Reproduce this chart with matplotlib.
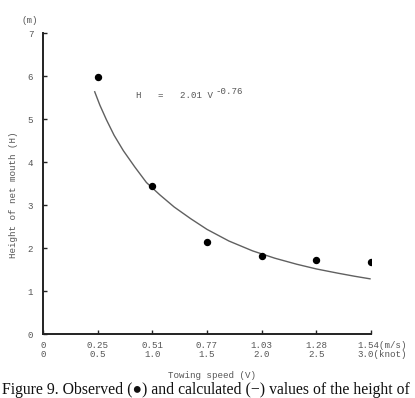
import matplotlib
matplotlib.use("Agg")
import matplotlib.pyplot as plt
import matplotlib.transforms as mtransforms

# Observed values (x in knots)
obs_knot = [0.5, 1.0, 1.5, 2.0, 2.5, 3.0]
obs_h = [5.98, 3.46, 2.15, 1.83, 1.73, 1.67]

# Calculated curve (x in knots)
calc_knot = [0.473, 0.52, 0.58, 0.65, 0.735, 0.84, 0.946, 1.07, 1.2, 1.35, 1.5,
             1.7, 1.917, 2.12, 2.32, 2.5, 2.7, 2.85, 2.991]
calc_h = [5.64, 5.33, 4.99, 4.63, 4.27, 3.89, 3.53, 3.24, 2.96, 2.69, 2.44,
          2.17, 1.94, 1.77, 1.63, 1.52, 1.42, 1.35, 1.29]

xtick_pos = [0, 0.5, 1.0, 1.5, 2.0, 2.5, 3.0]
xtick_ms = ["0", "0.25", "0.51", "0.77", "1.03", "1.28", "1.54(m/s)"]
xtick_kn = ["0", "0.5", "1.0", "1.5", "2.0", "2.5", "3.0(knot)"]
ytick_pos = [0, 1, 2, 3, 4, 5, 6, 7]

mono = "Liberation Mono"
tcol = "#555555"

fig = plt.figure(figsize=(4.15, 3.98), dpi=100)
fig.patch.set_facecolor("white")
ax = fig.add_axes([43/415, 1-334.3/398, (371-43)/415, (334.3-33.3)/398])

ax.plot(calc_knot, calc_h, color="#606060", lw=1.0)
ax.plot(obs_knot, obs_h, "o", color="black", ms=4.3)

ax.set_xlim(0, 3.0)
ax.set_ylim(0, 7)
for s in ["top", "right"]:
    ax.spines[s].set_visible(False)
for s in ["left", "bottom"]:
    ax.spines[s].set_color("#222222")
    ax.spines[s].set_linewidth(1.4)

ax.set_xticks(xtick_pos)
labels = [f"{a}\n{b}" for a, b in zip(xtick_ms, xtick_kn)]
ax.set_xticklabels(labels, fontfamily=mono, fontsize=6.6, color=tcol, linespacing=1.0)
ax.set_yticks(ytick_pos)
ax.set_yticklabels([str(v) for v in ytick_pos], fontfamily=mono, fontsize=6.6, color=tcol)
ax.tick_params(axis="both", direction="in", length=3, width=1, color="#222222")
ax.tick_params(axis="x", pad=5)
ax.tick_params(axis="y", pad=7)

# shift last x label so the value sits on the tick
last = ax.get_xticklabels()[-1]
last.set_horizontalalignment("left")
last.set_transform(last.get_transform() + mtransforms.ScaledTranslation(-14/100, 0, fig.dpi_scale_trans))

ax.text(-0.12, 7.3, "(m)", transform=ax.transData, fontfamily=mono, fontsize=6.6,
        color=tcol, ha="center", va="center")
fig.text(13/415, 1-195/398, "Height of net mouth (H)", rotation=90, fontfamily=mono,
         fontsize=6.6, color=tcol, ha="center", va="center")
fig.text(212/415, 1-375/398, "Towing speed (V)", fontfamily=mono, fontsize=6.6,
         color=tcol, ha="center", va="center")

fig.text(136/415, 1-96/398, "H   =   2.01 V", fontfamily=mono, fontsize=6.6,
         color=tcol, ha="left", va="center")
fig.text(216/415, 1-92/398, "-0.76", fontfamily=mono, fontsize=6.6,
         color=tcol, ha="left", va="center")

fig.text(2/415, 4/398, "Figure 9. Observed (\u25cf) and calculated (\u2212) values of the height of",
         family=["Liberation Serif", "DejaVu Sans"], fontsize=11.3, color="#111111",
         ha="left", va="baseline")

fig.savefig("out.png", dpi=100, facecolor="white")
